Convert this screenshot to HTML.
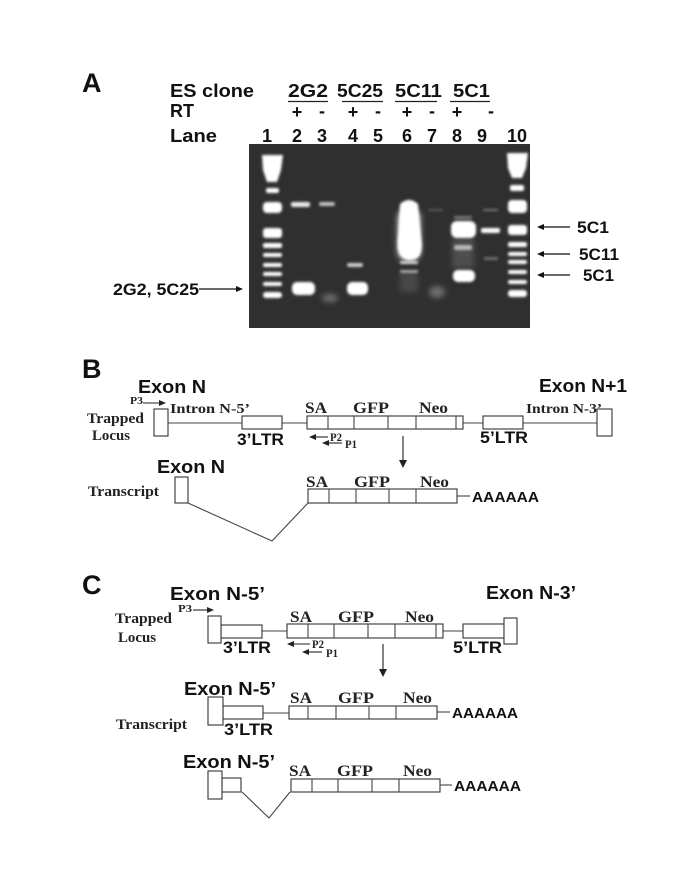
<!DOCTYPE html>
<html><head><meta charset="utf-8"><style>
html,body{margin:0;padding:0;background:#fff;}
svg{display:block;}
.h{font-family:"Liberation Sans",Arial,sans-serif;font-weight:bold;fill:#111;}
.t{font-family:"Liberation Serif","Times New Roman",serif;font-weight:bold;fill:#222;}
.ln{stroke:#444;stroke-width:1.1;fill:none;}
.bx{stroke:#333;stroke-width:1.1;fill:#fff;}
</style></head><body>
<svg width="685" height="886" viewBox="0 0 685 886" xmlns="http://www.w3.org/2000/svg">
<defs>
<filter id="b1" x="-50%" y="-50%" width="200%" height="200%"><feGaussianBlur stdDeviation="1.3"/></filter>
<filter id="b2" x="-50%" y="-50%" width="200%" height="200%"><feGaussianBlur stdDeviation="3"/></filter>
</defs>
<rect width="685" height="886" fill="#fff"/>

<!-- Panel A -->
<text class="h" x="82" y="92" font-size="27">A</text>
<text class="h" x="170" y="97" font-size="18" textLength="84" lengthAdjust="spacingAndGlyphs">ES clone</text>
<text class="h" x="170" y="117" font-size="18" textLength="24" lengthAdjust="spacingAndGlyphs">RT</text>
<text class="h" x="170" y="142" font-size="18" textLength="47" lengthAdjust="spacingAndGlyphs">Lane</text>

<text class="h" x="288" y="97" font-size="18" textLength="40" lengthAdjust="spacingAndGlyphs">2G2</text>
<text class="h" x="337" y="97" font-size="18" textLength="46" lengthAdjust="spacingAndGlyphs">5C25</text>
<text class="h" x="395" y="97" font-size="18" textLength="47" lengthAdjust="spacingAndGlyphs">5C11</text>
<text class="h" x="453" y="97" font-size="18" textLength="37" lengthAdjust="spacingAndGlyphs">5C1</text>
<g stroke="#222" stroke-width="1.3">
<line x1="288" y1="101.5" x2="328" y2="101.5"/>
<line x1="342" y1="101.5" x2="383" y2="101.5"/>
<line x1="395" y1="101.5" x2="437" y2="101.5"/>
<line x1="450" y1="101.5" x2="490" y2="101.5"/>
</g>
<g class="h" font-size="18" text-anchor="middle">
<text x="297" y="118">+</text><text x="322" y="117">-</text>
<text x="353" y="118">+</text><text x="378" y="117">-</text>
<text x="407" y="118">+</text><text x="432" y="117">-</text>
<text x="457" y="118">+</text><text x="491" y="117">-</text>
<text x="267" y="142">1</text><text x="297" y="142">2</text><text x="322" y="142">3</text>
<text x="353" y="142">4</text><text x="378" y="142">5</text><text x="407" y="142">6</text>
<text x="432" y="142">7</text><text x="457" y="142">8</text><text x="482" y="142">9</text>
<text x="517" y="142">10</text>
</g>

<!-- Gel -->
<rect x="249" y="144" width="281" height="184" fill="#2f2f2f"/>
<g fill="#fff" filter="url(#b1)">
<!-- lane 1 ladder -->
<path d="M262,155 L283,155 L281,170 L277,182 L267,182 L263,170 Z"/>
<rect x="266" y="188" width="13" height="5" rx="2"/>
<rect x="263" y="202" width="19" height="11" rx="4"/>
<rect x="263" y="228" width="19" height="10" rx="3"/>
<rect x="263" y="243" width="19" height="5" rx="2"/>
<rect x="263" y="253" width="19" height="4" rx="2"/>
<rect x="263" y="263" width="19" height="4" rx="2"/>
<rect x="263" y="272" width="19" height="4" rx="2"/>
<rect x="263" y="282" width="19" height="4" rx="2"/>
<rect x="263" y="292" width="19" height="6" rx="3"/>
<!-- lane 10 ladder -->
<path d="M507,153 L528,153 L526,168 L522,178 L512,178 L508,168 Z"/>
<rect x="510" y="185" width="14" height="6" rx="2"/>
<rect x="508" y="200" width="19" height="13" rx="4"/>
<rect x="508" y="225" width="19" height="10" rx="3"/>
<rect x="508" y="242" width="19" height="5" rx="2"/>
<rect x="508" y="252" width="19" height="4" rx="2"/>
<rect x="508" y="260" width="19" height="4" rx="2"/>
<rect x="508" y="270" width="19" height="4" rx="2"/>
<rect x="508" y="280" width="19" height="4" rx="2"/>
<rect x="508" y="290" width="19" height="7" rx="3"/>
<!-- lane 2 -->
<rect x="291" y="202" width="19" height="5" rx="2" opacity="0.9"/>
<rect x="292" y="282" width="23" height="13" rx="5"/>
<!-- lane 3 -->
<rect x="319" y="202" width="16" height="4" rx="2" opacity="0.7"/>
<!-- lane 4 -->
<rect x="347" y="263" width="16" height="4" rx="2" opacity="0.75"/>
<rect x="347" y="282" width="21" height="13" rx="5"/>
<!-- lane 6 -->
<path d="M400,204 Q409,196 418,204 L421,236 Q425,260 410,260 Q395,260 398,236 Z"/>
<rect x="400" y="261" width="18" height="3" rx="1" opacity="0.8"/>
<rect x="400" y="270" width="18" height="3" rx="1" opacity="0.55"/>
<!-- lane 8 -->
<rect x="451" y="221" width="25" height="17" rx="6"/>
<rect x="454" y="245" width="18" height="5" rx="2" opacity="0.6"/>
<rect x="453" y="270" width="22" height="12" rx="5"/>
<!-- lane 9 -->
<rect x="481" y="228" width="19" height="5" rx="2"/>
<rect x="483" y="209" width="15" height="2" rx="1" opacity="0.35"/>
<rect x="484" y="257" width="14" height="3" rx="1" opacity="0.3"/>
<!-- lane 7 faint -->
<rect x="428" y="209" width="15" height="2" rx="1" opacity="0.2"/>
<rect x="454" y="216" width="18" height="3" rx="1" opacity="0.35"/>
</g>
<g fill="#fff" filter="url(#b2)">
<rect x="397" y="210" width="24" height="50" rx="8" opacity="0.6"/>
<ellipse cx="330" cy="298" rx="8" ry="4" opacity="0.3"/>
<ellipse cx="437" cy="292" rx="8" ry="6" opacity="0.3"/>
<rect x="400" y="272" width="18" height="20" opacity="0.12"/>
<rect x="452" y="238" width="22" height="30" opacity="0.15"/>
</g>

<!-- right labels -->
<g stroke="#111" stroke-width="1.2">
<line x1="542" y1="227" x2="570" y2="227"/>
<line x1="542" y1="254" x2="570" y2="254"/>
<line x1="542" y1="275" x2="570" y2="275"/>
<line x1="199" y1="289" x2="237" y2="289"/>
</g>
<g fill="#111">
<polygon points="537,227 544,224 544,230"/>
<polygon points="537,254 544,251 544,257"/>
<polygon points="537,275 544,272 544,278"/>
<polygon points="243,289 236,286 236,292"/>
</g>
<text class="h" x="577" y="233" font-size="17" textLength="32" lengthAdjust="spacingAndGlyphs">5C1</text>
<text class="h" x="579" y="260" font-size="17" textLength="40" lengthAdjust="spacingAndGlyphs">5C11</text>
<text class="h" x="583" y="281" font-size="17" textLength="31" lengthAdjust="spacingAndGlyphs">5C1</text>
<text class="h" x="113" y="295" font-size="17" textLength="86" lengthAdjust="spacingAndGlyphs">2G2, 5C25</text>

<!-- Panel B -->
<text class="h" x="82" y="378" font-size="27">B</text>
<text class="h" x="138" y="393" font-size="18" textLength="68" lengthAdjust="spacingAndGlyphs">Exon N</text>
<text class="h" x="539" y="392" font-size="18" textLength="88" lengthAdjust="spacingAndGlyphs">Exon N+1</text>
<text class="t" x="130" y="404" font-size="11" textLength="13" lengthAdjust="spacingAndGlyphs">P3</text>
<line x1="143" y1="403" x2="160" y2="403" stroke="#222" stroke-width="1.1"/>
<polygon points="166,403 159,400 159,406" fill="#222"/>
<text class="t" x="170" y="413" font-size="14" textLength="80" lengthAdjust="spacingAndGlyphs">Intron N-5’</text>
<text class="t" x="526" y="413" font-size="14" textLength="76" lengthAdjust="spacingAndGlyphs">Intron N-3’</text>
<text class="t" x="87" y="423" font-size="15" textLength="57" lengthAdjust="spacingAndGlyphs">Trapped</text>
<text class="t" x="92" y="440" font-size="15" textLength="38" lengthAdjust="spacingAndGlyphs">Locus</text>

<line class="ln" x1="168" y1="423" x2="242" y2="423"/>
<line class="ln" x1="282" y1="423" x2="307" y2="423"/>
<line class="ln" x1="463" y1="423" x2="483" y2="423"/>
<line class="ln" x1="523" y1="423" x2="597" y2="423"/>
<rect class="bx" x="154" y="409" width="14" height="27"/>
<rect class="bx" x="242" y="416" width="40" height="13"/>
<rect class="bx" x="307" y="416" width="156" height="13"/>
<g class="ln"><line x1="328" y1="416" x2="328" y2="429"/><line x1="354" y1="416" x2="354" y2="429"/><line x1="388" y1="416" x2="388" y2="429"/><line x1="416" y1="416" x2="416" y2="429"/><line x1="456" y1="416" x2="456" y2="429"/></g>
<rect class="bx" x="483" y="416" width="40" height="13"/>
<rect class="bx" x="597" y="409" width="15" height="27"/>
<text class="t" x="305" y="413" font-size="16" textLength="22" lengthAdjust="spacingAndGlyphs">SA</text>
<text class="t" x="353" y="413" font-size="16" textLength="36" lengthAdjust="spacingAndGlyphs">GFP</text>
<text class="t" x="419" y="413" font-size="16" textLength="29" lengthAdjust="spacingAndGlyphs">Neo</text>
<text class="h" x="237" y="445" font-size="16.5" textLength="47" lengthAdjust="spacingAndGlyphs">3’LTR</text>
<text class="h" x="480" y="443" font-size="16.5" textLength="48" lengthAdjust="spacingAndGlyphs">5’LTR</text>
<!-- P2/P1 -->
<line x1="314" y1="437" x2="328" y2="437" stroke="#222" stroke-width="1.1"/>
<polygon points="309,437 316,434 316,440" fill="#222"/>
<text class="t" x="330" y="441" font-size="12" textLength="12" lengthAdjust="spacingAndGlyphs">P2</text>
<line x1="327" y1="443" x2="342" y2="443" stroke="#222" stroke-width="1.1"/>
<polygon points="322,443 329,440 329,446" fill="#222"/>
<text class="t" x="345" y="448" font-size="12" textLength="12" lengthAdjust="spacingAndGlyphs">P1</text>
<!-- down arrow -->
<line x1="403" y1="436" x2="403" y2="462" stroke="#333" stroke-width="1.2"/>
<polygon points="403,468 399,460 407,460" fill="#222"/>

<!-- Transcript B -->
<text class="h" x="157" y="473" font-size="18" textLength="68" lengthAdjust="spacingAndGlyphs">Exon N</text>
<text class="t" x="88" y="496" font-size="15" textLength="71" lengthAdjust="spacingAndGlyphs">Transcript</text>
<rect class="bx" x="175" y="477" width="13" height="26"/>
<polyline class="ln" points="188,503 272,541 308,503"/>
<rect class="bx" x="308" y="489" width="149" height="14"/>
<g class="ln"><line x1="329" y1="489" x2="329" y2="503"/><line x1="356" y1="489" x2="356" y2="503"/><line x1="389" y1="489" x2="389" y2="503"/><line x1="416" y1="489" x2="416" y2="503"/></g>
<text class="t" x="306" y="487" font-size="16" textLength="22" lengthAdjust="spacingAndGlyphs">SA</text>
<text class="t" x="354" y="487" font-size="16" textLength="36" lengthAdjust="spacingAndGlyphs">GFP</text>
<text class="t" x="420" y="487" font-size="16" textLength="29" lengthAdjust="spacingAndGlyphs">Neo</text>
<line class="ln" x1="457" y1="496" x2="470" y2="496"/>
<text class="h" x="472" y="502" font-size="15" textLength="67" lengthAdjust="spacingAndGlyphs">AAAAAA</text>

<!-- Panel C -->
<text class="h" x="82" y="594" font-size="27">C</text>
<text class="h" x="170" y="600" font-size="18" textLength="95" lengthAdjust="spacingAndGlyphs">Exon N-5’</text>
<text class="h" x="486" y="599" font-size="18" textLength="90" lengthAdjust="spacingAndGlyphs">Exon N-3’</text>
<text class="t" x="178" y="612" font-size="11" textLength="14" lengthAdjust="spacingAndGlyphs">P3</text>
<line x1="193" y1="610" x2="208" y2="610" stroke="#222" stroke-width="1.1"/>
<polygon points="214,610 207,607 207,613" fill="#222"/>
<text class="t" x="115" y="623" font-size="15" textLength="57" lengthAdjust="spacingAndGlyphs">Trapped</text>
<text class="t" x="118" y="642" font-size="15" textLength="38" lengthAdjust="spacingAndGlyphs">Locus</text>

<line class="ln" x1="262" y1="631" x2="287" y2="631"/>
<line class="ln" x1="443" y1="631" x2="463" y2="631"/>
<rect class="bx" x="221" y="625" width="41" height="13"/>
<rect class="bx" x="208" y="616" width="13" height="27"/>
<rect class="bx" x="287" y="624" width="156" height="14"/>
<g class="ln"><line x1="308" y1="624" x2="308" y2="638"/><line x1="334" y1="624" x2="334" y2="638"/><line x1="368" y1="624" x2="368" y2="638"/><line x1="395" y1="624" x2="395" y2="638"/><line x1="436" y1="624" x2="436" y2="638"/></g>
<rect class="bx" x="463" y="624" width="41" height="14"/>
<rect class="bx" x="504" y="618" width="13" height="26"/>
<text class="t" x="290" y="622" font-size="16" textLength="22" lengthAdjust="spacingAndGlyphs">SA</text>
<text class="t" x="338" y="622" font-size="16" textLength="36" lengthAdjust="spacingAndGlyphs">GFP</text>
<text class="t" x="405" y="622" font-size="16" textLength="29" lengthAdjust="spacingAndGlyphs">Neo</text>
<text class="h" x="223" y="653" font-size="16.5" textLength="48" lengthAdjust="spacingAndGlyphs">3’LTR</text>
<text class="h" x="453" y="653" font-size="16.5" textLength="49" lengthAdjust="spacingAndGlyphs">5’LTR</text>
<line x1="292" y1="644" x2="310" y2="644" stroke="#222" stroke-width="1.1"/>
<polygon points="287,644 294,641 294,647" fill="#222"/>
<text class="t" x="312" y="648" font-size="12" textLength="12" lengthAdjust="spacingAndGlyphs">P2</text>
<line x1="307" y1="652" x2="322" y2="652" stroke="#222" stroke-width="1.1"/>
<polygon points="302,652 309,649 309,655" fill="#222"/>
<text class="t" x="326" y="657" font-size="12" textLength="12" lengthAdjust="spacingAndGlyphs">P1</text>
<line x1="383" y1="644" x2="383" y2="670" stroke="#333" stroke-width="1.2"/>
<polygon points="383,677 379,669 387,669" fill="#222"/>

<!-- Transcript C1 -->
<text class="h" x="184" y="695" font-size="18" textLength="92" lengthAdjust="spacingAndGlyphs">Exon N-5’</text>
<text class="t" x="116" y="729" font-size="15" textLength="71" lengthAdjust="spacingAndGlyphs">Transcript</text>
<line class="ln" x1="263" y1="713" x2="289" y2="713"/>
<rect class="bx" x="223" y="706" width="40" height="13"/>
<rect class="bx" x="208" y="697" width="15" height="28"/>
<rect class="bx" x="289" y="706" width="148" height="13"/>
<g class="ln"><line x1="308" y1="706" x2="308" y2="719"/><line x1="336" y1="706" x2="336" y2="719"/><line x1="369" y1="706" x2="369" y2="719"/><line x1="396" y1="706" x2="396" y2="719"/></g>
<text class="t" x="290" y="703" font-size="16" textLength="22" lengthAdjust="spacingAndGlyphs">SA</text>
<text class="t" x="338" y="703" font-size="16" textLength="36" lengthAdjust="spacingAndGlyphs">GFP</text>
<text class="t" x="403" y="703" font-size="16" textLength="29" lengthAdjust="spacingAndGlyphs">Neo</text>
<line class="ln" x1="437" y1="712" x2="450" y2="712"/>
<text class="h" x="452" y="718" font-size="15" textLength="66" lengthAdjust="spacingAndGlyphs">AAAAAA</text>
<text class="h" x="224" y="735" font-size="16.5" textLength="49" lengthAdjust="spacingAndGlyphs">3’LTR</text>

<!-- Transcript C2 -->
<text class="h" x="183" y="768" font-size="18" textLength="92" lengthAdjust="spacingAndGlyphs">Exon N-5’</text>
<rect class="bx" x="222" y="778" width="19" height="14"/>
<rect class="bx" x="208" y="771" width="14" height="28"/>
<polyline class="ln" points="242,792 269,818 290,792"/>
<rect class="bx" x="291" y="779" width="149" height="13"/>
<g class="ln"><line x1="312" y1="779" x2="312" y2="792"/><line x1="338" y1="779" x2="338" y2="792"/><line x1="372" y1="779" x2="372" y2="792"/><line x1="399" y1="779" x2="399" y2="792"/></g>
<text class="t" x="289" y="776" font-size="16" textLength="22" lengthAdjust="spacingAndGlyphs">SA</text>
<text class="t" x="337" y="776" font-size="16" textLength="36" lengthAdjust="spacingAndGlyphs">GFP</text>
<text class="t" x="403" y="776" font-size="16" textLength="29" lengthAdjust="spacingAndGlyphs">Neo</text>
<line class="ln" x1="440" y1="785" x2="452" y2="785"/>
<text class="h" x="454" y="791" font-size="15" textLength="67" lengthAdjust="spacingAndGlyphs">AAAAAA</text>
</svg>
</body></html>
